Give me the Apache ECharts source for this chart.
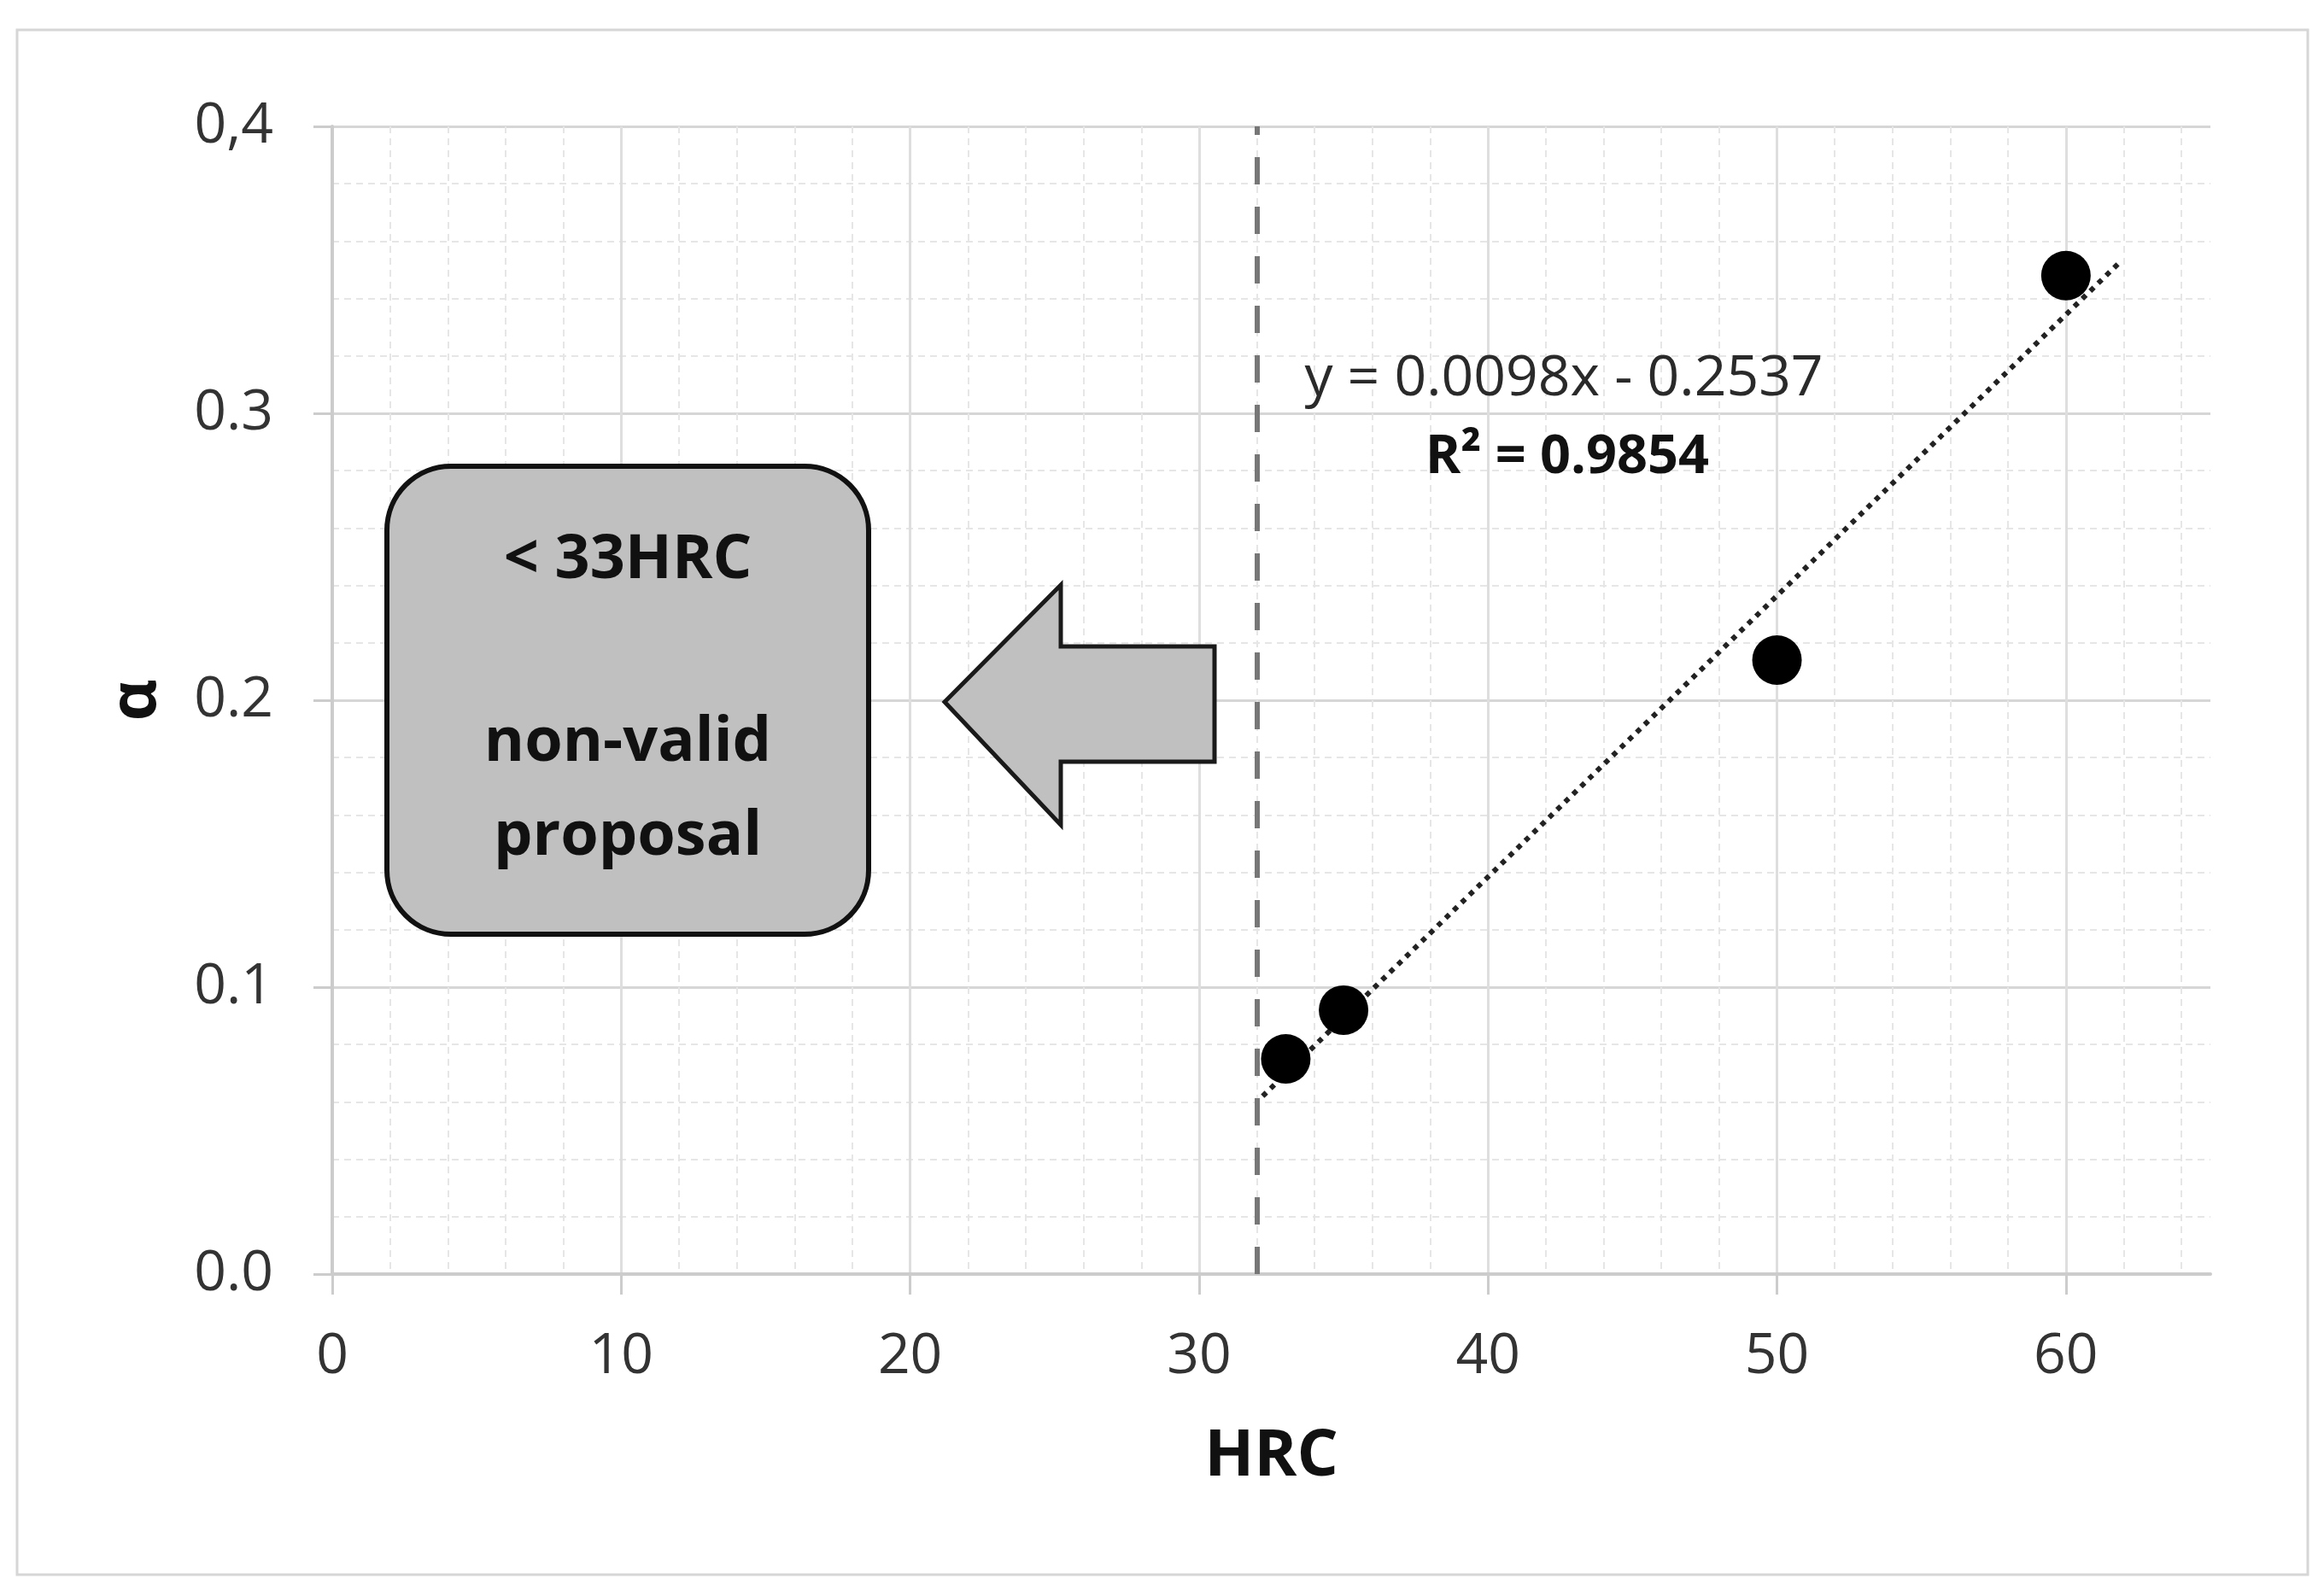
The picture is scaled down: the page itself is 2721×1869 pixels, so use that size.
<!DOCTYPE html>
<html>
<head>
<meta charset="utf-8">
<script src="https://cdn.jsdelivr.net/npm/echarts@6/dist/echarts.min.js"></script>
<style>
html,body{margin:0;padding:0;background:#fff;}
#c{width:2721px;height:1869px;}
</style>
</head>
<body>
<div id="c"></div>
<script>
// ---- data ----
const hrc = [33, 35, 50, 60];
const alpha = [0.075, 0.092, 0.214, 0.348];
const trendX = [32.2, 61.9];
const trendY = [0.062, 0.353];
const thresholdHRC = 32;
const xTickLabels = ['0', '10', '20', '30', '40', '50', '60'];
const yTickLabels = ['0.0', '0.1', '0.2', '0.3', '0,4'];
const equationText = 'y = 0.0098x - 0.2537';
const r2Text = 'R² = 0.9854';
const boxLines = ['< 33HRC', 'non-valid', 'proposal'];

const FONT = '"Open Sans", "Liberation Sans", sans-serif';
const chart = echarts.init(document.getElementById('c'), null, {renderer: 'canvas'});

const scatterData = hrc.map((x, i) => [x, alpha[i]]);
const trendData = trendX.map((x, i) => [x, trendY[i]]);

const option = {
  backgroundColor: '#ffffff',
  animation: false,
  grid: {left: 389, right: 133, top: 148, bottom: 377, containLabel: false},
  xAxis: {
    type: 'value', min: 0, max: 65, interval: 10,
    name: 'HRC', nameLocation: 'middle', nameGap: 214,
    nameTextStyle: {fontFamily: FONT, fontWeight: 'bold', fontSize: 76, color: '#111', verticalAlign: 'middle'},
    axisLine: {show: true, lineStyle: {color: '#cccccc', width: 4}},
    axisTick: {show: true, length: 24, lineStyle: {color: '#cccccc', width: 3}},
    axisLabel: {
      showMaxLabel: false, margin: 97, verticalAlign: 'middle',
      fontFamily: FONT, fontSize: 66, color: '#333333',
      formatter: v => { const i = Math.round(v / 10); return xTickLabels[i] !== undefined && v % 10 === 0 ? xTickLabels[i] : ''; }
    },
    splitLine: {show: true, showMaxLine: false, lineStyle: {color: '#dedede', width: 3}},
    minorTick: {show: false, splitNumber: 5},
    minorSplitLine: {show: true, lineStyle: {color: '#e6e6e6', width: 2, type: [8, 6]}}
  },
  yAxis: {
    type: 'value', min: 0, max: 0.4, interval: 0.1,
    name: 'α', nameLocation: 'middle', nameGap: 229, nameRotate: 90,
    nameTextStyle: {fontFamily: FONT, fontWeight: 'bold', fontSize: 76, color: '#111', verticalAlign: 'middle'},
    axisLine: {show: true, lineStyle: {color: '#cccccc', width: 4}},
    axisTick: {show: true, length: 22, lineStyle: {color: '#cccccc', width: 3}},
    axisLabel: {
      margin: 69, fontFamily: FONT, fontSize: 66, color: '#333333',
      formatter: v => yTickLabels[Math.round(v * 10)]
    },
    splitLine: {show: true, lineStyle: {color: '#d6d6d6', width: 3}},
    minorTick: {show: false, splitNumber: 5},
    minorSplitLine: {show: true, lineStyle: {color: '#e6e6e6', width: 2, type: [8, 6]}}
  },
  series: [
    {
      type: 'line', data: trendData, symbol: 'none', z: 2,
      lineStyle: {color: '#222', width: 6, type: [6, 7]},
      markLine: {
        silent: true, symbol: 'none', label: {show: false},
        lineStyle: {color: '#777777', width: 6, type: [32, 26]},
        data: [{xAxis: thresholdHRC}]
      }
    },
    {
      type: 'scatter', data: scatterData, symbol: 'circle', symbolSize: 58, z: 3,
      itemStyle: {color: '#000000', opacity: 1}
    }
  ],
  graphic: [
    {type: 'rect', silent: true, z: -1, shape: {x: 20, y: 35, width: 2682, height: 1809},
     style: {fill: 'none', stroke: '#d6d6d6', lineWidth: 3}},
    {type: 'rect', z: 10, shape: {x: 453, y: 546, width: 564, height: 548, r: 75},
     style: {fill: '#c0c0c0', stroke: '#111111', lineWidth: 6}},
    {type: 'text', z: 11, x: 735, y: 656, style: {text: boxLines[0], font: 'bold 72px ' + FONT, fill: '#111', textAlign: 'center', textVerticalAlign: 'middle'}},
    {type: 'text', z: 11, x: 735, y: 870, style: {text: boxLines[1], font: 'bold 72px ' + FONT, fill: '#111', textAlign: 'center', textVerticalAlign: 'middle'}},
    {type: 'text', z: 11, x: 735, y: 980, style: {text: boxLines[2], font: 'bold 72px ' + FONT, fill: '#111', textAlign: 'center', textVerticalAlign: 'middle'}},
    {type: 'polygon', z: 10, shape: {points: [[1106, 822], [1242, 685], [1242, 757], [1422, 757], [1422, 892], [1242, 892], [1242, 966]]},
     style: {fill: '#c0c0c0', stroke: '#1a1a1a', lineWidth: 5, lineJoin: 'miter'}},
    {type: 'text', z: 11, x: 1831, y: 444, style: {text: equationText, font: '66px ' + FONT, fill: '#2a2a2a', textAlign: 'center', textVerticalAlign: 'middle'}},
    {type: 'text', z: 11, x: 1835, y: 536, style: {text: r2Text, font: 'bold 63px ' + FONT, fill: '#111', textAlign: 'center', textVerticalAlign: 'middle'}}
  ]
};
chart.setOption(option);
</script>
</body>
</html>
